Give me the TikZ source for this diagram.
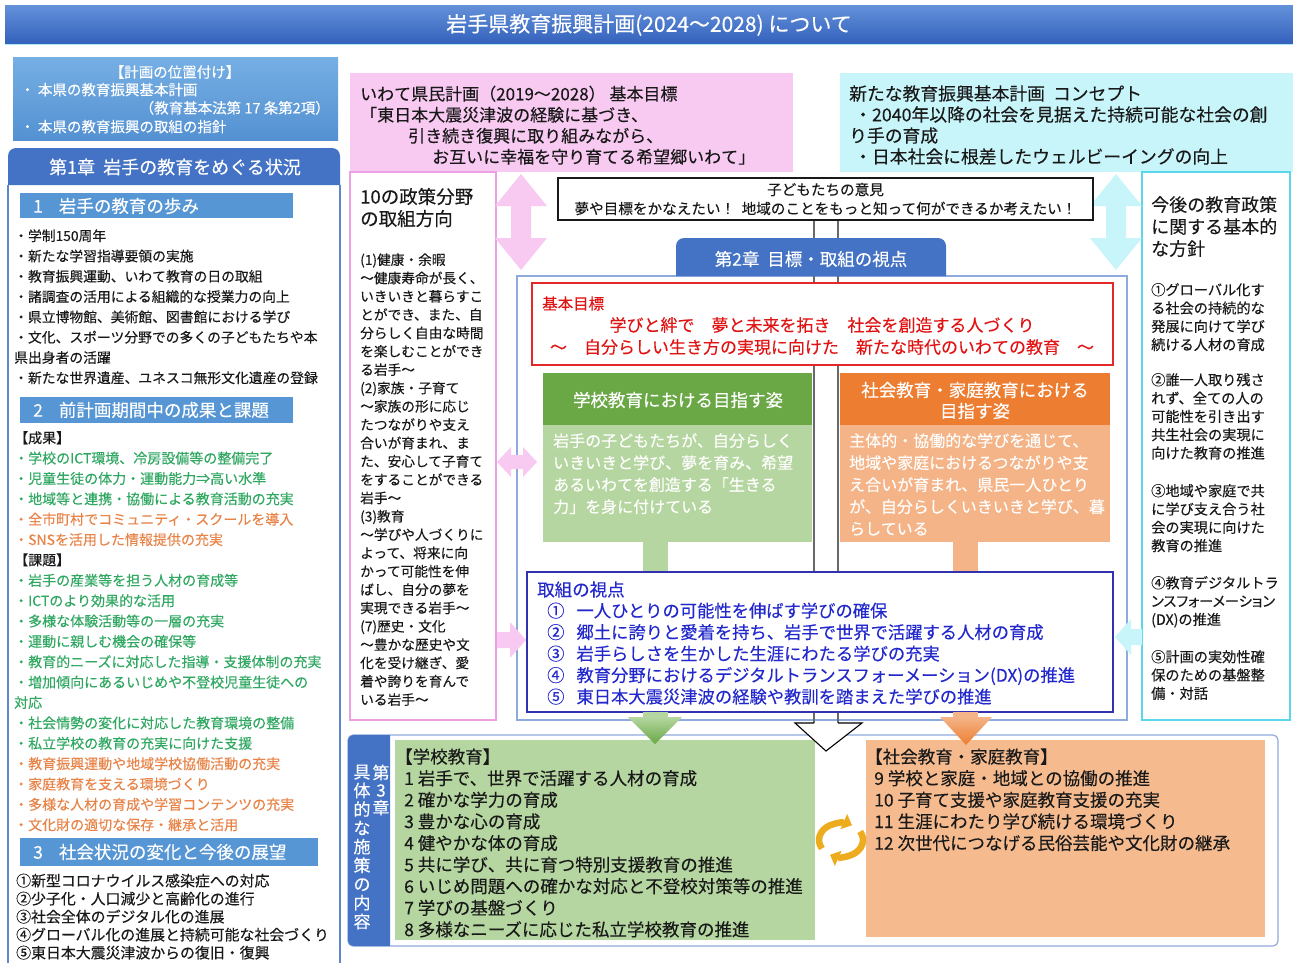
\documentclass[tikz,border=0pt]{standalone}
\usepackage{fontspec}
\setmainfont{Noto Sans CJK JP}[FakeBold=0.2]
\usetikzlibrary{arrows.meta}
\newcommand{\myfs}[2]{\fontsize{#1}{#2}\selectfont}
\definecolor{titletop}{RGB}{100,145,218}
\definecolor{titlebot}{RGB}{52,98,188}
\definecolor{chapblue}{RGB}{68,114,196}
\definecolor{barblue}{RGB}{86,150,212}
\definecolor{postop}{RGB}{118,175,228}
\definecolor{posbot}{RGB}{84,145,210}
\definecolor{frameblue}{RGB}{143,170,220}
\definecolor{gtext}{RGB}{48,168,98}
\definecolor{otext}{RGB}{232,132,72}
\definecolor{pinkfill}{RGB}{248,202,242}
\definecolor{pinkline}{RGB}{238,160,228}
\definecolor{cyanfill}{RGB}{200,245,250}
\definecolor{cyanline}{RGB}{90,215,235}
\definecolor{greendark}{RGB}{106,168,70}
\definecolor{greenlight}{RGB}{181,214,160}
\definecolor{orangedark}{RGB}{237,125,49}
\definecolor{orangelight}{RGB}{244,180,135}
\definecolor{orangebot}{RGB}{245,187,142}
\definecolor{redline}{RGB}{228,40,40}
\definecolor{redtext}{RGB}{225,20,20}
\definecolor{navy}{RGB}{50,50,175}
\definecolor{navytext}{RGB}{35,40,205}
\definecolor{gold}{RGB}{236,172,30}
\definecolor{golddark}{RGB}{205,140,20}
\definecolor{linegray}{RGB}{105,105,105}
\definecolor{textgray}{RGB}{25,25,25}
\begin{document}
\begin{tikzpicture}[x=1pt,y=-1pt,
  txt/.style={anchor=north west,inner sep=0pt,align=left},
  ctr/.style={anchor=center,inner sep=0pt,align=center},
  pinkarrow/.style={fill=pinkfill},
  cyanarrow/.style={fill=cyanfill},
  cycarrow/.style={gold,line width=6.5,-{Triangle[length=9pt,width=16pt]}}]
\useasboundingbox (0,0) rectangle (1293,962);
\clip (0,0) rectangle (1293,962);
\fill[white] (0,0) rectangle (1293,962);

% ---------- title ----------
\shade[top color=titletop,bottom color=titlebot] (5,5) rectangle (1293,43);
\draw[cyanline!50!white,line width=1.5] (5,44.5) -- (1293,44.5);
\node[ctr,text=white,font=\myfs{21}{24}] (title) at (649,25) {岩手県教育振興計画(2024～2028) について};

% ---------- position box ----------
\shade[top color=postop,bottom color=posbot] (13,57) rectangle (338,140);
\node[ctr,text=white,font=\myfs{14.5}{18}] (posh) at (175,72) {【計画の位置付け】};
\node[txt,text=white,font=\myfs{14.5}{18}] (pos1) at (20,82.75) {・ 本県の教育振興基本計画};
\node[anchor=north east,inner sep=0pt,text=white,font=\myfs{14.5}{18}] (pos2) at (330,100.75) {（教育基本法第 17 条第2項）};
\node[txt,text=white,font=\myfs{14.5}{18}] (pos3) at (20,119.75) {・ 本県の教育振興の取組の指針};

% ---------- chapter 1 ----------
\draw[chapblue!85!white,line width=1.5] (8,185) -- (8,975) -- (340,975) -- (340,185);
\fill[chapblue] (8,185) -- (8,156) arc[start angle=180,end angle=270,radius=8] -- (332,148) arc[start angle=270,end angle=360,radius=8] -- (340,185) -- cycle;
\node[ctr,text=white,font=\myfs{18}{22}] (ch1) at (175,167) {第1章\ \ 岩手の教育をめぐる状況};

\fill[barblue] (20,193) rectangle (293,218);
\node[anchor=west,inner sep=0pt,text=white,font=\myfs{17.5}{20}] (b1) at (33,206) {1\hspace{16pt}岩手の教育の歩み};
\node[txt,text=textgray,font=\myfs{13.8}{20.3}] (s1) at (14,229.1) {・学制150周年\\・新たな学習指導要領の実施\\・教育振興運動、いわて教育の日の取組\\・諸調査の活用による組織的な授業力の向上\\・県立博物館、美術館、図書館における学び\\・文化、スポーツ分野での多くの子どもたちや本\\県出身者の活躍\\・新たな世界遺産、ユネスコ無形文化遺産の登録};

\fill[barblue] (20,397) rectangle (293,423);
\node[anchor=west,inner sep=0pt,text=white,font=\myfs{17.5}{20}] (b2) at (33,410) {2\hspace{16pt}前計画期間中の成果と課題};
\node[txt,text=textgray,font=\myfs{14}{20.37}] (s2) at (14,431) {【成果】\\
\textcolor{gtext}{・学校のICT環境、冷房設備等の整備完了}\\
\textcolor{gtext}{・児童生徒の体力・運動能力⇒高い水準}\\
\textcolor{gtext}{・地域等と連携・協働による教育活動の充実}\\
\textcolor{otext}{・全市町村でコミュニティ・スクールを導入}\\
\textcolor{otext}{・SNSを活用した情報提供の充実}\\
【課題】\\
\textcolor{gtext}{・岩手の産業等を担う人材の育成等}\\
\textcolor{gtext}{・ICTのより効果的な活用}\\
\textcolor{gtext}{・多様な体験活動等の一層の充実}\\
\textcolor{gtext}{・運動に親しむ機会の確保等}\\
\textcolor{gtext}{・教育的ニーズに対応した指導・支援体制の充実}\\
\textcolor{gtext}{・増加傾向にあるいじめや不登校児童生徒への}\\
\textcolor{gtext}{対応}\\
\textcolor{gtext}{・社会情勢の変化に対応した教育環境の整備}\\
\textcolor{gtext}{・私立学校の教育の充実に向けた支援}\\
\textcolor{otext}{・教育振興運動や地域学校協働活動の充実}\\
\textcolor{otext}{・家庭教育を支える環境づくり}\\
\textcolor{otext}{・多様な人材の育成や学習コンテンツの充実}\\
\textcolor{otext}{・文化財の適切な保存・継承と活用}};

\fill[barblue] (20,838) rectangle (318,866);
\node[anchor=west,inner sep=0pt,text=white,font=\myfs{17.5}{20}] (b3) at (33,852) {3\hspace{16pt}社会状況の変化と今後の展望};
\node[txt,text=textgray,font=\myfs{14.9}{18}] (s3) at (16,873.5) {①新型コロナウイルス感染症への対応\\②少子化・人口減少と高齢化の進行\\③社会全体のデジタル化の進展\\④グローバル化の進展と持続可能な社会づくり\\⑤東日本大震災津波からの復旧・復興};

% ---------- top pink / cyan ----------
\fill[pinkfill] (350,73) rectangle (793,172);
\node[txt,text=textgray,font=\myfs{17}{21}] (iwate) at (360,85.5) {いわて県民計画（2019～2028） 基本目標\\「東日本大震災津波の経験に基づき、\\\hspace*{48pt}引き続き復興に取り組みながら、\\\hspace*{72pt}お互いに幸福を守り育てる希望郷いわて」};
\fill[cyanfill] (840,73) rectangle (1293,172);
\node[txt,text=textgray,font=\myfs{17.8}{21}] (concept) at (849,85.1) {新たな教育振興基本計画\ \ コンセプト\\\hspace*{5pt}・2040年以降の社会を見据えた持続可能な社会の創\\り手の育成\\\hspace*{5pt}・日本社会に根差したウェルビーイングの向上};

% ---------- side boxes ----------
\draw[pinkline,line width=1.2,fill=white] (350,172) rectangle (496,720);
\node[txt,text=textgray,font=\myfs{18.5}{22}] (p10h) at (360,187.75) {10の政策分野\\の取組方向};
\node[txt,text=textgray,font=\myfs{13.7}{18.33}] (p10) at (360,253.15) {(1)健康・余暇\\～健康寿命が長く、\\いきいきと暮らすこ\\とができ、また、自\\分らしく自由な時間\\を楽しむことができ\\る岩手～\\(2)家族・子育て\\～家族の形に応じ\\たつながりや支え\\合いが育まれ、ま\\た、安心して子育て\\をすることができる\\岩手～\\(3)教育\\～学びや人づくりに\\よって、将来に向\\かって可能性を伸\\ばし、自分の夢を\\実現できる岩手～\\(7)歴史・文化\\～豊かな歴史や文\\化を受け継ぎ、愛\\着や誇りを育んで\\いる岩手～};

\draw[cyanline,line width=1.2,fill=white] (1142,172) rectangle (1290,720);
\node[txt,text=textgray,font=\myfs{18}{22}] (rh) at (1151,196) {今後の教育政策\\に関する基本的\\な方針};
\node[txt,text=textgray,font=\myfs{14.2}{18.3}] (r1) at (1151,282.9) {①グローバル化す\\る社会の持続的な\\発展に向けて学び\\続ける人材の育成};
\node[txt,text=textgray,font=\myfs{14.2}{18.3}] (r2) at (1151,372.9) {②誰一人取り残さ\\れず、全ての人の\\可能性を引き出す\\共生社会の実現に\\向けた教育の推進};
\node[txt,text=textgray,font=\myfs{14.2}{18.3}] (r3) at (1151,483.9) {③地域や家庭で共\\に学び支え合う社\\会の実現に向けた\\教育の推進};
\node[txt,text=textgray,font=\myfs{14.2}{18.3}] (r4) at (1151,575.9) {④教育デジタルトラ\\{\addfontfeature{RawFeature=+palt}ンスフォーメーション}\\(DX)の推進};
\node[txt,text=textgray,font=\myfs{14.2}{18.3}] (r5) at (1151,649.9) {⑤計画の実効性確\\保のための基盤整\\備・対話};

% ---------- block arrows ----------
\fill[pinkarrow] (521,174) -- (547,206) -- (531,206) -- (531,238) -- (547,238) -- (521,270) -- (495,238) -- (511,238) -- (511,206) -- (495,206) -- cycle;
\fill[cyanarrow] (1116,174) -- (1142,206) -- (1126,206) -- (1126,238) -- (1142,238) -- (1116,270) -- (1090,238) -- (1106,238) -- (1106,206) -- (1090,206) -- cycle;

% ---------- chapter 2 ----------
\draw[frameblue,line width=1.2,fill=white] (517,276) rectangle (1127,720);
\fill[pinkarrow] (497,462) -- (511,447) -- (511,455) -- (523,455) -- (523,447) -- (537,462) -- (523,477) -- (523,469) -- (511,469) -- (511,477) -- cycle;
\fill[pinkarrow] (497,632) -- (510,632) -- (510,622) -- (526,640) -- (510,658) -- (510,648) -- (497,648) -- cycle;
\fill[cyanarrow] (1142,629) -- (1131,629) -- (1131,619) -- (1115,637) -- (1131,655) -- (1131,645) -- (1142,645) -- cycle;

\node[draw=textgray,line width=1.2,fill=white,minimum width=535pt,minimum height=42pt,inner sep=0pt,align=center,text=textgray,font=\myfs{14.6}{19}] (kids) at (825.5,199) {子どもたちの意見\\夢や目標をかなえたい！\ \ 地域のことをもっと知って何ができるか考えたい！};
\coordinate (headL) at (814,723);
\coordinate (headR) at (838,723);
\draw[linegray,line width=1.3] (kids.south -| headL) -- (headL);
\draw[linegray,line width=1.3] (kids.south -| headR) -- (headR);

\fill[chapblue] (676,276) -- (676,246) arc[start angle=180,end angle=270,radius=8] -- (938,238) arc[start angle=270,end angle=360,radius=8] -- (946,276) -- cycle;
\node[ctr,text=white,font=\myfs{17.5}{21}] (ch2) at (811,259) {第2章\ \ 目標・取組の視点};

\draw[redline,line width=1.3,fill=white] (532,283) rectangle (1113,365);
\node[txt,text=redtext,font=\myfs{15.5}{18}] (goalh) at (542,296.25) {基本目標};
\node[ctr,text=redtext,font=\myfs{17}{22}] (goal) at (822,336) {学びと絆で\quad 夢と未来を拓き\quad 社会を創造する人づくり\\～\quad 自分らしい生き方の実現に向けた\quad 新たな時代のいわての教育\quad ～};

\fill[greendark] (543,373) rectangle (812,425);
\node[ctr,text=white,font=\myfs{17.5}{21}] (gh) at (678,400) {学校教育における目指す姿};
\fill[greenlight] (543,425) rectangle (812,542);
\node[txt,text=white,font=\myfs{16}{22}] (gb) at (553,433) {岩手の子どもたちが、自分らしく\\いきいきと学び、夢を育み、希望\\あるいわてを創造する「生きる\\力」を身に付けている};

\fill[orangedark] (840,373) rectangle (1110,425);
\node[ctr,text=white,font=\myfs{17.5}{21}] (oh) at (975,400.5) {社会教育・家庭教育における\\目指す姿};
\fill[orangelight] (840,425) rectangle (1110,542);
\node[txt,text=white,font=\myfs{16}{22}] (ob) at (849,433) {主体的・協働的な学びを通じて、\\地域や家庭におけるつながりや支\\え合いが育まれ、県民一人ひとり\\が、自分らしくいきいきと学び、暮\\らしている};

\fill[greenlight] (643,542) rectangle (668,574);
\fill[orangelight] (953,542) rectangle (978,574);

\draw[navy,line width=1.5,fill=white] (527,572) rectangle (1113,712);
\node[txt,text=navytext,font=\myfs{17.5}{21}] (vh) at (537,581.25) {取組の視点};
\node[txt,text=navytext,font=\myfs{17.3}{21.5}] (vp) at (547,602.35) {①\hspace{12pt}一人ひとりの可能性を伸ばす学びの確保\\②\hspace{12pt}郷土に誇りと愛着を持ち、岩手で世界で活躍する人材の育成\\③\hspace{12pt}岩手らしさを生かした生涯にわたる学びの充実\\④\hspace{12pt}教育分野におけるデジタルトランスフォーメーション(DX)の推進\\⑤\hspace{12pt}東日本大震災津波の経験や教訓を踏まえた学びの推進};

% ---------- chapter 3 ----------
\draw[frameblue,line width=1.2,rounded corners=5] (348,735) rectangle (1278,946);
\fill[chapblue] (390,735) -- (354,735) arc[start angle=270,end angle=180,radius=6] -- (348,940) arc[start angle=180,end angle=90,radius=6] -- (390,946) -- cycle;
\node[anchor=north,inner sep=0pt,align=center,text=white,font=\myfs{17}{17.5}] (c3a) at (381,764.5) {第\\3\\章};
\node[anchor=north,inner sep=0pt,align=center,text=white,font=\myfs{17}{18.7}] (c3b) at (362,764.5) {具\\体\\的\\な\\施\\策\\の\\内\\容};

\fill[greenlight] (395,740) rectangle (815,940);
\node[txt,text=textgray,font=\myfs{17.5}{21.6}] (sch) at (404,748.25) {\hspace*{-9pt}【学校教育】\\1 岩手で、世界で活躍する人材の育成\\2 確かな学力の育成\\3 豊かな心の育成\\4 健やかな体の育成\\5 共に学び、共に育つ特別支援教育の推進\\6 いじめ問題への確かな対応と不登校対策等の推進\\7 学びの基盤づくり\\8 多様なニーズに応じた私立学校教育の推進};

\fill[orangebot] (866,740) rectangle (1265,937);
\node[txt,text=textgray,font=\myfs{17.5}{21.6}] (soc) at (874,748.25) {\hspace*{-9pt}【社会教育・家庭教育】\\9 学校と家庭・地域との協働の推進\\10 子育て支援や家庭教育支援の充実\\11 生涯にわたり学び続ける環境づくり\\12 次世代につなげる民俗芸能や文化財の継承};

% cycle icon
\coordinate (cyc) at (841,840);
\draw[cycarrow] ([shift={(150:22 and 17)}]cyc) arc[start angle=150,end angle=300,x radius=22,y radius=17];
\draw[cycarrow] ([shift={(-30:22 and 17)}]cyc) arc[start angle=-30,end angle=120,x radius=22,y radius=17];

% arrows into chapter 3
\fill[greenlight] (643,712) rectangle (668,718);
\shade[top color=greenlight,bottom color=greendark] (628,717) -- (682,717) -- (655,744) -- cycle;
\fill[orangelight] (953,712) rectangle (978,718);
\shade[top color=orangelight,bottom color=orangedark] (940,717) -- (992,717) -- (966,745) -- cycle;
\filldraw[fill=white,draw=black,line width=1.1] (headL) -- (795,723) -- (826,751) -- (862,723) -- (headR);
\end{tikzpicture}
\end{document}
